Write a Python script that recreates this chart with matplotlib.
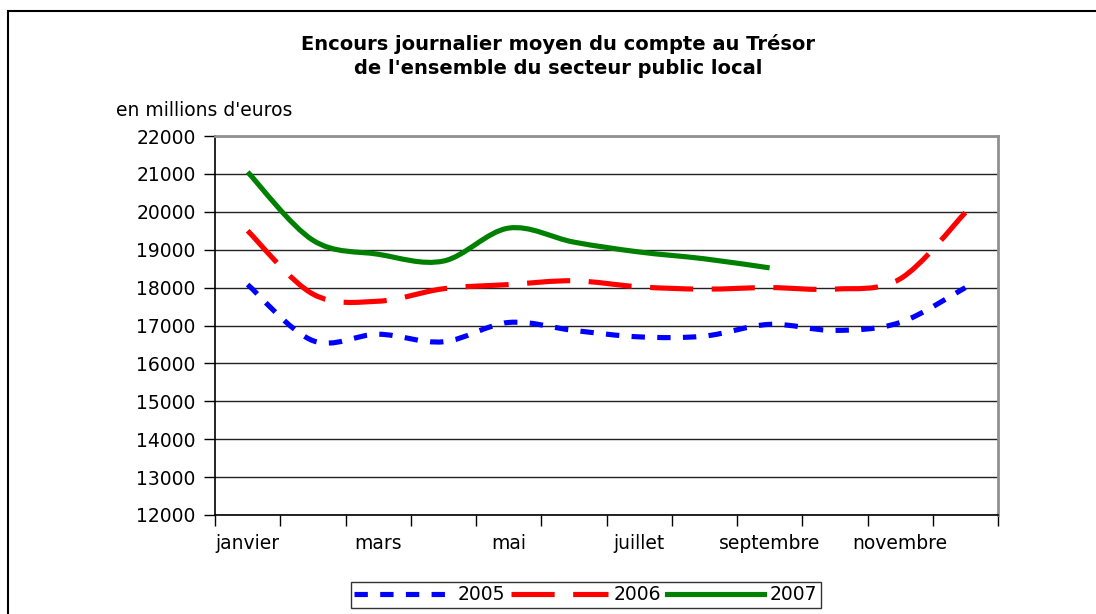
import numpy as np
import matplotlib.pyplot as plt
from matplotlib.path import Path
from matplotlib.patches import PathPatch, Rectangle
from matplotlib.lines import Line2D

months = ['janvier', 'février', 'mars', 'avril', 'mai', 'juin', 'juillet',
          'août', 'septembre', 'octobre', 'novembre', 'décembre']
v2005 = [18080, 16600, 16770, 16570, 17080, 16870, 16700, 16720, 17030, 16870, 17080, 18000]
v2006 = [19500, 17830, 17640, 17970, 18080, 18180, 18020, 17960, 18000, 17960, 18230, 19980]
v2007 = [21050, 19250, 18880, 18700, 19570, 19200, 18940, 18760, 18520]


def smooth_path(ys):
	# Excel-like smoothed line: cubic bezier through each point
	xs = np.arange(len(ys), dtype=float)
	pts = np.column_stack([xs, np.asarray(ys, dtype=float)])
	n = len(pts)
	verts = [pts[0]]
	codes = [Path.MOVETO]
	for i in range(n - 1):
		p0 = pts[i - 1] if i > 0 else pts[i]
		p1, p2 = pts[i], pts[i + 1]
		p3 = pts[i + 2] if i + 2 < n else pts[i + 1]
		c1 = p1 + (p2 - p0) / 6.0
		c2 = p2 - (p3 - p1) / 6.0
		verts += [c1, c2, p2]
		codes += [Path.CURVE4] * 3
	return Path(verts, codes)


fig = plt.figure(figsize=(10.96, 6.14), dpi=100)
plt.rcParams['font.family'] = 'DejaVu Sans'

# outer chart frame
fig.patches.append(Rectangle((8 / 1096, -0.1), 1.2, 1 - 11 / 614 + 0.1, transform=fig.transFigure,
	fill=False, edgecolor='black', linewidth=1.5))

ax = fig.add_axes([215 / 1096, 1 - 515 / 614, 783 / 1096, 379 / 614])
ax.set_xlim(-0.5, 11.5)
ax.set_ylim(12000, 22000)

series = [
	(v2005, 'blue', (0, (2.6, 2.4)), '2005'),
	(v2006, 'red', (0, (8.4, 3.6)), '2006'),
	(v2007, 'green', '-', '2007'),
]
handles = []
for vals, col, ls, lab in series:
	patch = PathPatch(smooth_path(vals), fill=False, edgecolor=col, linewidth=3.7,
		linestyle=ls, capstyle='butt', joinstyle='round', zorder=3)
	ax.add_patch(patch)
	handles.append(Line2D([], [], color=col, linewidth=3.7, linestyle=ls, label=lab))

ax.set_yticks(np.arange(12000, 22001, 1000))
ax.yaxis.grid(True, color='#222222', linewidth=1)
ax.set_axisbelow(True)
ax.tick_params(axis='y', labelsize=13.5, length=8, width=1, pad=6, direction='out')

ax.set_xticks(np.arange(-0.5, 12, 1))
ax.set_xticklabels([])
ax.set_xticks(np.arange(0, 12, 2), minor=True)
ax.set_xticklabels(months[::2], minor=True)
ax.tick_params(axis='x', which='major', length=8, width=1, direction='out')
ax.tick_params(axis='x', which='minor', length=0, labelsize=13.5, pad=14)

for s in ['top', 'right']:
	ax.spines[s].set_color('#909090')
	ax.spines[s].set_linewidth(2)
for s in ['left', 'bottom']:
	ax.spines[s].set_color('black')
	ax.spines[s].set_linewidth(1.2)

fig.text(558 / 1096, 1 - 56 / 614, "Encours journalier moyen du compte au Trésor\nde l'ensemble du secteur public local",
	ha='center', va='center', fontsize=14, fontweight='bold', linespacing=1.35)
fig.text(116 / 1096, 1 - 110 / 614, "en millions d'euros", ha='left', va='center', fontsize=13.5)

leg = fig.legend(handles=handles, loc='center', bbox_to_anchor=(586 / 1096, 1 - 595 / 614), ncol=3,
	fontsize=13.5, frameon=True, fancybox=False, edgecolor='black', handlelength=5.2,
	handletextpad=0.3, columnspacing=0.3, borderpad=0.2)
leg.get_frame().set_linewidth(1)

fig.savefig('out.png', dpi=100)
